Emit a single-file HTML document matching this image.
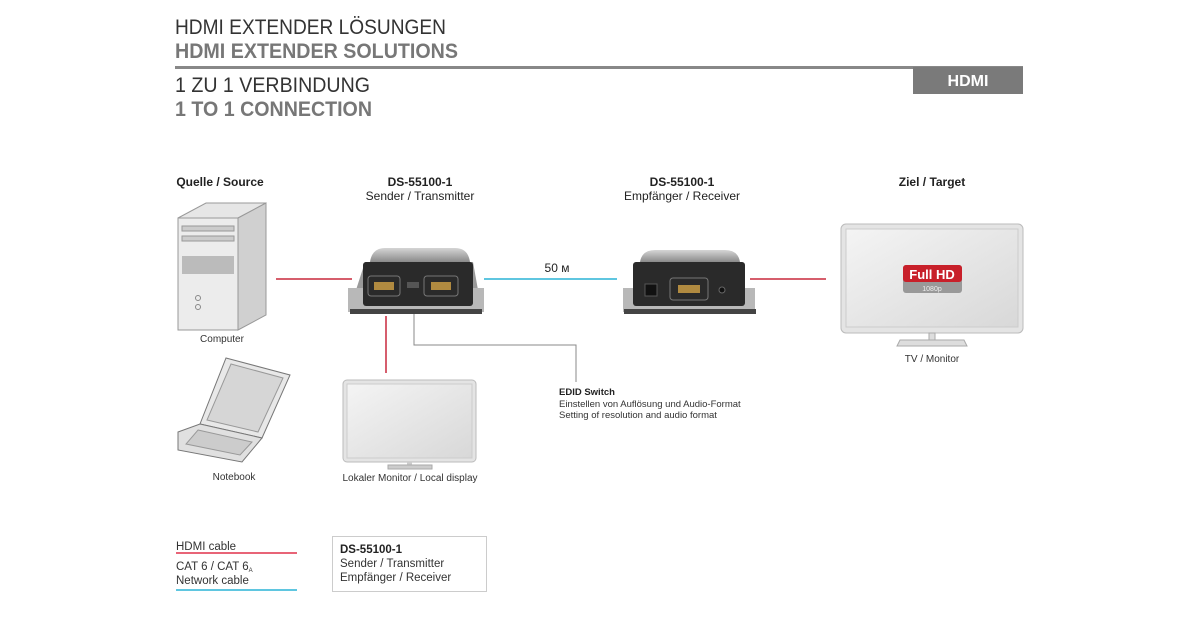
<!DOCTYPE html>
<html><head><meta charset="utf-8"><style>
body{margin:0;background:#fff;}
svg{display:block;font-family:"Liberation Sans",sans-serif;}
</style></head><body>
<svg width="1200" height="630" viewBox="0 0 1200 630" xmlns="http://www.w3.org/2000/svg">
<defs>
<linearGradient id="scr" x1="0" y1="0" x2="1" y2="1"><stop offset="0" stop-color="#f4f4f4"/><stop offset="1" stop-color="#d8d8d8"/></linearGradient>
<linearGradient id="alu" x1="0" y1="0" x2="0" y2="1"><stop offset="0" stop-color="#d5d5d5"/><stop offset="1" stop-color="#8a8a8a"/></linearGradient>
</defs>
<!-- header -->
<text x="175" y="34" font-size="21" fill="#333" textLength="271" lengthAdjust="spacingAndGlyphs">HDMI EXTENDER LÖSUNGEN</text>
<text x="175" y="58" font-size="21" font-weight="bold" fill="#777" textLength="283" lengthAdjust="spacingAndGlyphs">HDMI EXTENDER SOLUTIONS</text>
<rect x="175" y="66" width="848" height="3" fill="#888"/>
<rect x="913" y="67" width="110" height="27" fill="#7a7a7a"/>
<text x="968" y="86" font-size="16" font-weight="bold" fill="#fff" text-anchor="middle">HDMI</text>
<text x="175" y="92" font-size="21" fill="#333" textLength="195" lengthAdjust="spacingAndGlyphs">1 ZU 1 VERBINDUNG</text>
<text x="175" y="116" font-size="21" font-weight="bold" fill="#777" textLength="197" lengthAdjust="spacingAndGlyphs">1 TO 1 CONNECTION</text>
<!-- column labels -->
<g font-size="12" fill="#222" text-anchor="middle">
<text x="220" y="186" font-weight="bold">Quelle / Source</text>
<text x="420" y="186" font-weight="bold">DS-55100-1</text>
<text x="420" y="200">Sender / Transmitter</text>
<text x="682" y="186" font-weight="bold">DS-55100-1</text>
<text x="682" y="200">Empfänger / Receiver</text>
<text x="932" y="186" font-weight="bold">Ziel / Target</text>
</g>
<!-- computer -->
<polygon points="178,218 238,218 266,203 206,203" fill="#e6e6e6" stroke="#999"/>
<polygon points="238,218 266,203 266,315 238,330" fill="#d0d0d0" stroke="#999"/>
<rect x="178" y="218" width="60" height="112" fill="#ececec" stroke="#999"/>
<rect x="182" y="226" width="52" height="5" fill="#ccc" stroke="#999"/>
<rect x="182" y="236" width="52" height="5" fill="#ccc" stroke="#999"/>
<rect x="182" y="256" width="52" height="18" fill="#bbb"/>
<circle cx="198" cy="298" r="2.5" fill="none" stroke="#888"/>
<circle cx="198" cy="307" r="2.5" fill="none" stroke="#888"/>
<text x="222" y="342" font-size="10" fill="#333" text-anchor="middle">Computer</text>
<!-- laptop -->
<polygon points="226,358 290,375 262,438 200,424" fill="#e8e8e8" stroke="#777"/>
<polygon points="231,364 283,378 258,432 207,420" fill="#d6d6d6" stroke="#999"/>
<polygon points="200,424 262,438 242,462 178,450 178,432" fill="#e0e0e0" stroke="#777"/>
<polygon points="198,430 252,442 240,455 186,444" fill="#ccc" stroke="#999"/>
<text x="234" y="480" font-size="10" fill="#333" text-anchor="middle">Notebook</text>
<!-- lines -->
<line x1="276" y1="279" x2="352" y2="279" stroke="#c8283c" stroke-width="1.5"/>
<line x1="484" y1="279" x2="617" y2="279" stroke="#2ab3d6" stroke-width="1.5"/>
<line x1="750" y1="279" x2="826" y2="279" stroke="#c8283c" stroke-width="1.5"/>
<text x="557" y="272" font-size="12" fill="#222" text-anchor="middle">50 м</text>
<line x1="386" y1="316" x2="386" y2="373" stroke="#c8283c" stroke-width="1.5"/>
<polyline points="414,312 414,345 576,345 576,382" fill="none" stroke="#888" stroke-width="1"/>
<!-- transmitter -->
<polygon points="350,313 482,313 478,290 473,262 365,262 356,290" fill="#9a9a9a"/>
<rect x="348" y="288" width="136" height="24" fill="#b8b8b8"/>
<path d="M370,262 Q372,248 385,248 L455,248 Q468,248 470,262 Z" fill="url(#alu)"/>
<rect x="363" y="262" width="110" height="44" rx="3" fill="#2a2a2a"/>
<rect x="368" y="276" width="32" height="20" rx="3" fill="none" stroke="#777"/>
<rect x="374" y="282" width="20" height="8" fill="#b08a40"/>
<rect x="424" y="276" width="34" height="20" rx="3" fill="none" stroke="#777"/>
<rect x="431" y="282" width="20" height="8" fill="#b08a40"/>
<rect x="407" y="282" width="12" height="6" fill="#555"/>
<rect x="350" y="309" width="132" height="5" fill="#444"/>
<!-- receiver -->
<rect x="623" y="288" width="132" height="24" fill="#b8b8b8"/>
<path d="M640,262 Q642,250 655,250 L725,250 Q738,250 740,262 Z" fill="url(#alu)"/>
<rect x="633" y="262" width="112" height="44" rx="3" fill="#2a2a2a"/>
<rect x="645" y="284" width="12" height="12" fill="#111" stroke="#555"/>
<rect x="670" y="278" width="38" height="22" rx="3" fill="none" stroke="#777"/>
<rect x="678" y="285" width="22" height="8" fill="#b08a40"/>
<circle cx="722" cy="290" r="3" fill="#111" stroke="#666"/>
<rect x="624" y="309" width="132" height="5" fill="#444"/>
<!-- TV -->
<rect x="841" y="224" width="182" height="109" rx="5" fill="#e4e4e4" stroke="#bbb"/>
<rect x="846" y="229" width="172" height="98" fill="url(#scr)" stroke="#ccc"/>
<rect x="929" y="333" width="6" height="7" fill="#ddd" stroke="#aaa"/>
<polygon points="900,340 964,340 967,346 897,346" fill="#ddd" stroke="#aaa"/>
<rect x="903" y="265" width="59" height="28" rx="3" fill="#999"/>
<rect x="903" y="265" width="59" height="17" rx="3" fill="#c8202a"/>
<text x="932" y="279" font-size="13" font-weight="bold" fill="#fff" text-anchor="middle">Full HD</text>
<text x="932" y="291" font-size="7" fill="#eee" text-anchor="middle">1080p</text>
<text x="932" y="362" font-size="10" fill="#333" text-anchor="middle">TV / Monitor</text>
<!-- local display -->
<rect x="343" y="380" width="133" height="82" rx="4" fill="#e4e4e4" stroke="#bbb"/>
<rect x="347" y="384" width="125" height="74" fill="url(#scr)" stroke="#ccc"/>
<rect x="407" y="462" width="5" height="4" fill="#ccc"/>
<rect x="388" y="465" width="44" height="4" fill="#ccc" stroke="#aaa"/>
<text x="410" y="481" font-size="10" fill="#333" text-anchor="middle">Lokaler Monitor / Local display</text>
<!-- EDID -->
<text x="559" y="395" font-size="9.5" font-weight="bold" fill="#222">EDID Switch</text>
<text x="559" y="407" font-size="9.5" fill="#333">Einstellen von Auflösung und Audio-Format</text>
<text x="559" y="418" font-size="9.5" fill="#333">Setting of resolution and audio format</text>
<!-- legend -->
<text x="176" y="550" font-size="11.5" fill="#333">HDMI cable</text>
<line x1="176" y1="553" x2="297" y2="553" stroke="#e0304a" stroke-width="1.5"/>
<text x="176" y="570" font-size="11.5" fill="#333">CAT 6 / CAT 6<tspan font-size="6" dy="2">A</tspan></text>
<text x="176" y="584" font-size="11.5" fill="#333">Network cable</text>
<line x1="176" y1="590" x2="297" y2="590" stroke="#2ab3d6" stroke-width="1.5"/>
<rect x="332.5" y="536.5" width="154" height="55" fill="#fff" stroke="#ccc"/>
<text x="340" y="553" font-size="11.5" font-weight="bold" fill="#222">DS-55100-1</text>
<text x="340" y="567" font-size="11.5" fill="#333">Sender / Transmitter</text>
<text x="340" y="581" font-size="11.5" fill="#333">Empfänger / Receiver</text>
</svg>
</body></html>
